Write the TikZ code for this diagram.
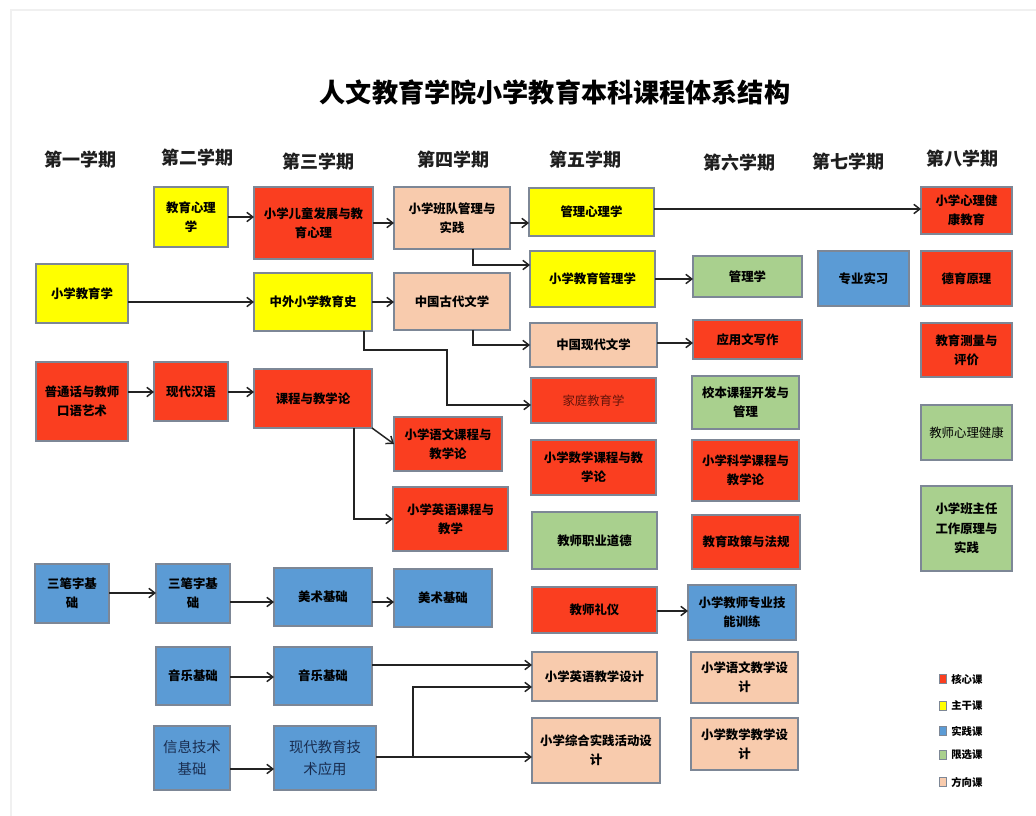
\documentclass[tikz,border=0pt]{standalone}
\usepackage{fontspec}
\setmainfont{Noto Sans CJK SC}
\usetikzlibrary{arrows.meta}
\definecolor{cred}{RGB}{250,62,32}
\definecolor{cyel}{RGB}{255,255,0}
\definecolor{cpea}{RGB}{248,203,173}
\definecolor{cgre}{RGB}{169,208,142}
\definecolor{cblu}{RGB}{91,155,213}
\definecolor{bordc}{RGB}{125,135,150}
\definecolor{arrc}{RGB}{35,35,35}
\definecolor{darkred}{RGB}{100,20,10}
\definecolor{navy}{RGB}{25,45,80}
\newcommand\mkbox[7]{\node[box,#6,minimum width={(#4-#2)*0.75pt},minimum height={(#5-#3)*0.75pt}] (#1) at ({(#2+#4)/2},{(#3+#5)/2}) {#7};}
\tikzset{
  box/.style={draw=bordc, line width=0.9pt, inner sep=1pt, outer sep=0pt, align=center,
    font=\bfseries\fontsize{9.3}{14.5}\selectfont, text=black},
  kr/.style={fill=cred}, ky/.style={fill=cyel}, kp/.style={fill=cpea},
  kg/.style={fill=cgre}, kb/.style={fill=cblu},
  thin/.style={font=\mdseries\fontsize{9.3}{14.5}\selectfont},
  big/.style={font=\mdseries\fontsize{10.8}{16}\selectfont, text=navy},
  arr/.style={draw=arrc, line width=1.1pt, -{Straight Barb[length=4.5pt,width=7pt,line width=1.1pt]}},
  head/.style={font=\bfseries\fontsize{13.5}{14}\selectfont, text={rgb,255:red,30;green,30;blue,30}},
  legsq/.style={draw=bordc, line width=0.4pt, minimum width=5pt, minimum height=6.5pt, inner sep=0pt},
  legtx/.style={anchor=west, inner sep=0pt, font=\bfseries\fontsize{7.8}{8}\selectfont}
}
\begin{document}
\begin{tikzpicture}[x=0.75pt,y=-0.75pt]
\useasboundingbox (0,0) rectangle (1036,816);
\fill[white] (0,0) rectangle (1036,816);
\draw[gray!12, line width=0.8pt] (11,816) -- (11,10) -- (1036,10);

\node[font=\bfseries\fontsize{19.6}{22}\selectfont] (title) at (555,92) {人文教育学院小学教育本科课程体系结构};

\node[head] (h1) at (80,160) {第一学期};
\node[head] (h2) at (197,158) {第二学期};
\node[head] (h3) at (318,162) {第三学期};
\node[head] (h4) at (453,160) {第四学期};
\node[head] (h5) at (585,160) {第五学期};
\node[head] (h6) at (739,163) {第六学期};
\node[head] (h7) at (848,162) {第七学期};
\node[head] (h8) at (962,159) {第八学期};

% column 1-2
\mkbox{jyxl}{154}{187}{228}{247}{ky}{教育心理\\学}
\mkbox{xxjyx}{36}{264}{128}{323}{ky}{小学教育学}
\mkbox{pth}{36}{362}{128}{441}{kr}{普通话与教师\\口语艺术}
\mkbox{xdhy}{154}{362}{228}{421}{kr}{现代汉语}
\mkbox{sbz1}{35}{564}{109}{623}{kb}{三笔字基\\础}
\mkbox{sbz2}{156}{564}{230}{623}{kb}{三笔字基\\础}
\mkbox{yy2}{156}{647}{230}{705}{kb}{音乐基础}
\mkbox{xxjs}{154}{726}{230}{790}{kb,big}{信息技术\\基础}
% column 3
\mkbox{etfz}{254}{187}{373}{259}{kr}{小学儿童发展与教\\育心理}
\mkbox{zwjys}{254}{273}{372}{331}{ky}{中外小学教育史}
\mkbox{kcjx}{254}{369}{372}{428}{kr}{课程与教学论}
\mkbox{ms3}{274}{568}{372}{626}{kb}{美术基础}
\mkbox{yy3}{274}{647}{372}{705}{kb}{音乐基础}
\mkbox{xdjs}{274}{726}{376}{790}{kb,big}{现代教育技\\术应用}
% column 4
\mkbox{bdgl}{394}{187}{510}{249}{kp}{小学班队管理与\\实践}
\mkbox{gdwx}{394}{273}{510}{330}{kp}{中国古代文学}
\mkbox{ywkc}{394}{417}{502}{471}{kr}{小学语文课程与\\教学论}
\mkbox{yykc}{393}{487}{508}{551}{kr}{小学英语课程与\\教学}
\mkbox{ms4}{394}{569}{492}{627}{kb}{美术基础}
% column 5
\mkbox{glxl}{529}{188}{654}{236}{ky}{管理心理学}
\mkbox{jyglx}{530}{251}{655}{307}{ky}{小学教育管理学}
\mkbox{xdwx}{530}{323}{657}{367}{kp}{中国现代文学}
\mkbox{jtjy}{531}{378}{656}{423}{kr,thin,text=darkred}{家庭教育学}
\mkbox{sxkc}{531}{440}{656}{495}{kr}{小学数学课程与教\\学论}
\mkbox{zydd}{532}{512}{657}{569}{kg}{教师职业道德}
\mkbox{jsly}{532}{587}{657}{633}{kr}{教师礼仪}
\mkbox{yysj}{532}{652}{657}{701}{kp}{小学英语教学设计}
\mkbox{zhsj}{532}{718}{660}{783}{kp}{小学综合实践活动设\\计}
% column 6
\mkbox{glx}{693}{256}{802}{297}{kg}{管理学}
\mkbox{yyw}{693}{320}{802}{359}{kr}{应用文写作}
\mkbox{xbkc}{692}{376}{799}{429}{kg}{校本课程开发与\\管理}
\mkbox{kxkc}{692}{440}{799}{501}{kr}{小学科学课程与\\教学论}
\mkbox{zcfg}{692}{515}{800}{569}{kr}{教育政策与法规}
\mkbox{jnxl}{688}{585}{796}{640}{kb}{小学教师专业技\\能训练}
\mkbox{ywsj}{691}{652}{798}{703}{kp}{小学语文教学设\\计}
\mkbox{sxsj}{691}{718}{798}{770}{kp}{小学数学教学设\\计}
% column 7-8
\mkbox{zysx}{818}{251}{909}{306}{kb}{专业实习}
\mkbox{xljk}{921}{187}{1012}{234}{kr}{小学心理健\\康教育}
\mkbox{dyyl}{921}{251}{1012}{306}{kr}{德育原理}
\mkbox{clpj}{921}{323}{1012}{377}{kr}{教育测量与\\评价}
\mkbox{jsxl}{921}{405}{1012}{460}{kg,thin}{教师心理健康}
\mkbox{bzr}{921}{486}{1012}{571}{kg}{小学班主任\\工作原理与\\实践}

% connectors
\draw[arr] (jyxl.east) -- (etfz.west |- jyxl.east);
\draw[arr] (xxjyx.east |- 0,302) -- (zwjys.west |- 0,302);
\draw[arr] (pth.east |- 0,392) -- (xdhy.west |- 0,392);
\draw[arr] (xdhy.east |- 0,392) -- (kcjx.west |- 0,392);
\draw[arr] (etfz.east) -- (bdgl.west |- etfz.east);
\draw[arr] (bdgl.east |- 0,223) -- (glxl.west |- 0,223);
\draw[arr] (bdgl.south -| 473,0) |- (jyglx.west |- 0,265);
\draw[arr] (zwjys.east |- 0,302) -- (gdwx.west |- 0,302);
\draw[arr] (gdwx.south -| 473,0) |- (xdwx.west);
\draw[arr] (zwjys.south -| 364,0) |- (447,350) |- (jtjy.west |- 0,405);
\draw[arr] (kcjx.south east) -- (ywkc.west);
\draw[arr] (kcjx.south -| 354,0) |- (yykc.west);
\draw[arr] (glxl.east |- 0,209) -- (xljk.west |- 0,209);
\draw[arr] (jyglx.east |- 0,279) -- (glx.west |- 0,279);
\draw[arr] (xdwx.east |- 0,343) -- (yyw.west |- 0,343);
\draw[arr] (jsly.east |- 0,611) -- (jnxl.west |- 0,611);
\draw[arr] (sbz1.east |- 0,593) -- (sbz2.west |- 0,593);
\draw[arr] (sbz2.east |- 0,602) -- (ms3.west |- 0,602);
\draw[arr] (ms3.east |- 0,602) -- (ms4.west |- 0,602);
\draw[arr] (yy2.east |- 0,677) -- (yy3.west |- 0,677);
\draw[arr] (xxjs.east |- 0,769) -- (xdjs.west |- 0,769);
\draw[arr] (yy3.east |- 0,665) -- (yysj.west |- 0,665);
\draw[arr] (xdjs.east |- 0,757) -| (413,687) -- (yysj.west |- 0,687);
\draw[arr] (xdjs.east |- 0,757) -- (zhsj.west |- 0,757);

% legend
\node[legsq, fill=cred] (l1) at (943,679) {};
\node[legtx] (t1) at (951,679) {核心课};
\node[legsq, fill=cyel] (l2) at (943,706) {};
\node[legtx] (t2) at (951,706) {主干课};
\node[legsq, fill=cblu] (l3) at (943,731) {};
\node[legtx] (t3) at (951,731) {实践课};
\node[legsq, fill=cgre] (l4) at (943,755) {};
\node[legtx] (t4) at (951,755) {限选课};
\node[legsq, fill=cpea] (l5) at (943,782) {};
\node[legtx] (t5) at (951,782) {方向课};
\end{tikzpicture}
\end{document}
